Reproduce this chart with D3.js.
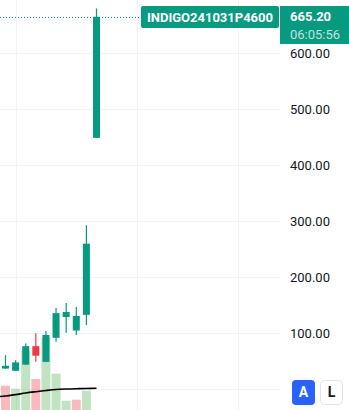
<!DOCTYPE html>
<html>
<head>
<meta charset="utf-8">
<script src="https://cdn.jsdelivr.net/npm/d3@7"></script>
<style>
  body { margin: 0; background: #fff; }
  svg { display: block; font-family: Roboto, "Noto Sans", sans-serif; }
</style>
</head>
<body>
<div id="chart"></div>
<script>
var symbol = "INDIGO241031P4600",
    lastPrice = 665.20,
    countdown = "06:05:56";

// candles, oldest first
var opens  = [37, 33, 44, 77, 49, 92, 129, 105, 133, 449],
    highs  = [61, 52, 82, 100, 104, 145, 154, 147, 293, 680],
    lows   = [37, 33, 44, 49, 49, 85, 101, 97, 115, 449],
    closes = [42, 48, 77, 60, 97, 136, 138, 131, 260, 665.2];

// volume and its moving average (first MA value belongs to the bar before the view)
var volumes = [2430, 2130, 5900, 3100, 7230, 3630, 930, 1030, 1930, 0],
    volUp   = [false, true, true, false, true, true, true, false, true, true],
    volMA   = [1330, 1400, 1540, 1700, 1830, 1950, 2050, 2100, 2130, 2150, 2170];

var priceTicks = [100, 200, 300, 400, 500, 600],
    timeGrid = [1, 13, 23];

var W = 349, H = 410, plotRight = 280;
var green = "#089981", red = "#f23645";

var svg = d3.select("#chart").append("svg")
    .attr("width", W)
    .attr("height", H);

var x = d3.scaleLinear().domain([0, 9]).range([5.5, 96.5]);
var y = d3.scaleLinear().domain([0, 600]).range([389.3, 53.3]);
var yv = d3.scaleLinear().domain([0, 10000]).range([410, 310]);

// grid
svg.append("g").selectAll("line")
  .data([0].concat(priceTicks))
  .enter().append("line")
    .attr("x1", 0).attr("x2", plotRight)
    .attr("y1", function(d) { return Math.round(y(d)) + 0.5; })
    .attr("y2", function(d) { return Math.round(y(d)) + 0.5; })
    .attr("stroke", "#f0f3fa");

svg.append("g").selectAll("line")
  .data(timeGrid)
  .enter().append("line")
    .attr("x1", function(d) { return Math.round(x(d)) + 0.5; })
    .attr("x2", function(d) { return Math.round(x(d)) + 0.5; })
    .attr("y1", 0).attr("y2", H)
    .attr("stroke", "#f0f3fa");

// volume
svg.append("g").selectAll("rect")
  .data(volumes)
  .enter().append("rect")
    .attr("x", function(d, i) { return x(i) - 4.5; })
    .attr("width", 9)
    .attr("y", function(d) { return yv(d); })
    .attr("height", function(d) { return yv(0) - yv(d); })
    .attr("fill", function(d, i) { return volUp[i] ? "rgba(76,175,80,0.35)" : "rgba(242,54,69,0.35)"; });

svg.append("path")
  .datum(volMA)
  .attr("d", d3.line()
    .x(function(d, i) { return x(i - 1); })
    .y(function(d) { return yv(d); })
    .curve(d3.curveMonotoneX))
  .attr("fill", "none")
  .attr("stroke", "#000")
  .attr("stroke-width", 1.6);

// candles
var candles = svg.append("g").selectAll("g")
  .data(opens)
  .enter().append("g");

candles.append("line")
    .attr("x1", function(d, i) { return x(i); })
    .attr("x2", function(d, i) { return x(i); })
    .attr("y1", function(d, i) { return y(highs[i]); })
    .attr("y2", function(d, i) { return y(lows[i]); })
    .attr("stroke", function(d, i) { return closes[i] >= opens[i] ? green : red; })
    .attr("stroke-width", 1.2);

candles.append("rect")
    .attr("x", function(d, i) { return x(i) - 3.5; })
    .attr("width", 7)
    .attr("y", function(d, i) { return y(Math.max(opens[i], closes[i])); })
    .attr("height", function(d, i) { return Math.max(1, Math.abs(y(opens[i]) - y(closes[i]))); })
    .attr("fill", function(d, i) { return closes[i] >= opens[i] ? green : red; });

// last price line
svg.append("line")
  .attr("x1", 0).attr("x2", 141)
  .attr("y1", Math.round(y(lastPrice)) + 0.5)
  .attr("y2", Math.round(y(lastPrice)) + 0.5)
  .attr("stroke", green)
  .attr("stroke-dasharray", "1,2");

// price axis labels
svg.append("g").selectAll("text")
  .data(priceTicks)
  .enter().append("text")
    .attr("x", 290)
    .attr("y", function(d) { return y(d); })
    .attr("dy", "0.35em")
    .attr("font-size", 13)
    .attr("fill", "#131722")
    .text(function(d) { return d3.format(".2f")(d); });

// symbol label + price tag
var tagY = Math.round(y(lastPrice)) - 11;
svg.append("rect")
  .attr("x", 141).attr("y", tagY)
  .attr("width", 138).attr("height", 22)
  .attr("rx", 2)
  .attr("fill", green);
svg.append("text")
  .attr("x", 210).attr("y", tagY + 11)
  .attr("dy", "0.35em")
  .attr("text-anchor", "middle")
  .attr("font-size", 13)
  .attr("font-weight", "bold")
  .attr("fill", "#fff")
  .text(symbol);

svg.append("rect")
  .attr("x", 280).attr("y", tagY)
  .attr("width", 69).attr("height", 38)
  .attr("fill", green);
svg.append("text")
  .attr("x", 290).attr("y", y(lastPrice))
  .attr("dy", "0.35em")
  .attr("font-size", 13)
  .attr("font-weight", "bold")
  .attr("fill", "#fff")
  .text(d3.format(".2f")(lastPrice));
svg.append("text")
  .attr("x", 290).attr("y", y(lastPrice) + 18)
  .attr("dy", "0.35em")
  .attr("font-size", 13)
  .attr("fill", "rgba(255,255,255,0.75)")
  .text(countdown);

// A / L buttons
svg.append("rect")
  .attr("x", 292).attr("y", 380)
  .attr("width", 23).attr("height", 25)
  .attr("rx", 4)
  .attr("fill", "#2962ff");
svg.append("text")
  .attr("x", 303.5).attr("y", 392.5)
  .attr("dy", "0.35em")
  .attr("text-anchor", "middle")
  .attr("font-size", 14)
  .attr("font-weight", "bold")
  .attr("fill", "#fff")
  .text("A");

svg.append("rect")
  .attr("x", 320.5).attr("y", 380.5)
  .attr("width", 22).attr("height", 24)
  .attr("rx", 4)
  .attr("fill", "#fff")
  .attr("stroke", "#e0e3eb");
svg.append("text")
  .attr("x", 331.5).attr("y", 392.5)
  .attr("dy", "0.35em")
  .attr("text-anchor", "middle")
  .attr("font-size", 14)
  .attr("font-weight", "bold")
  .attr("fill", "#131722")
  .text("L");
</script>
</body>
</html>
